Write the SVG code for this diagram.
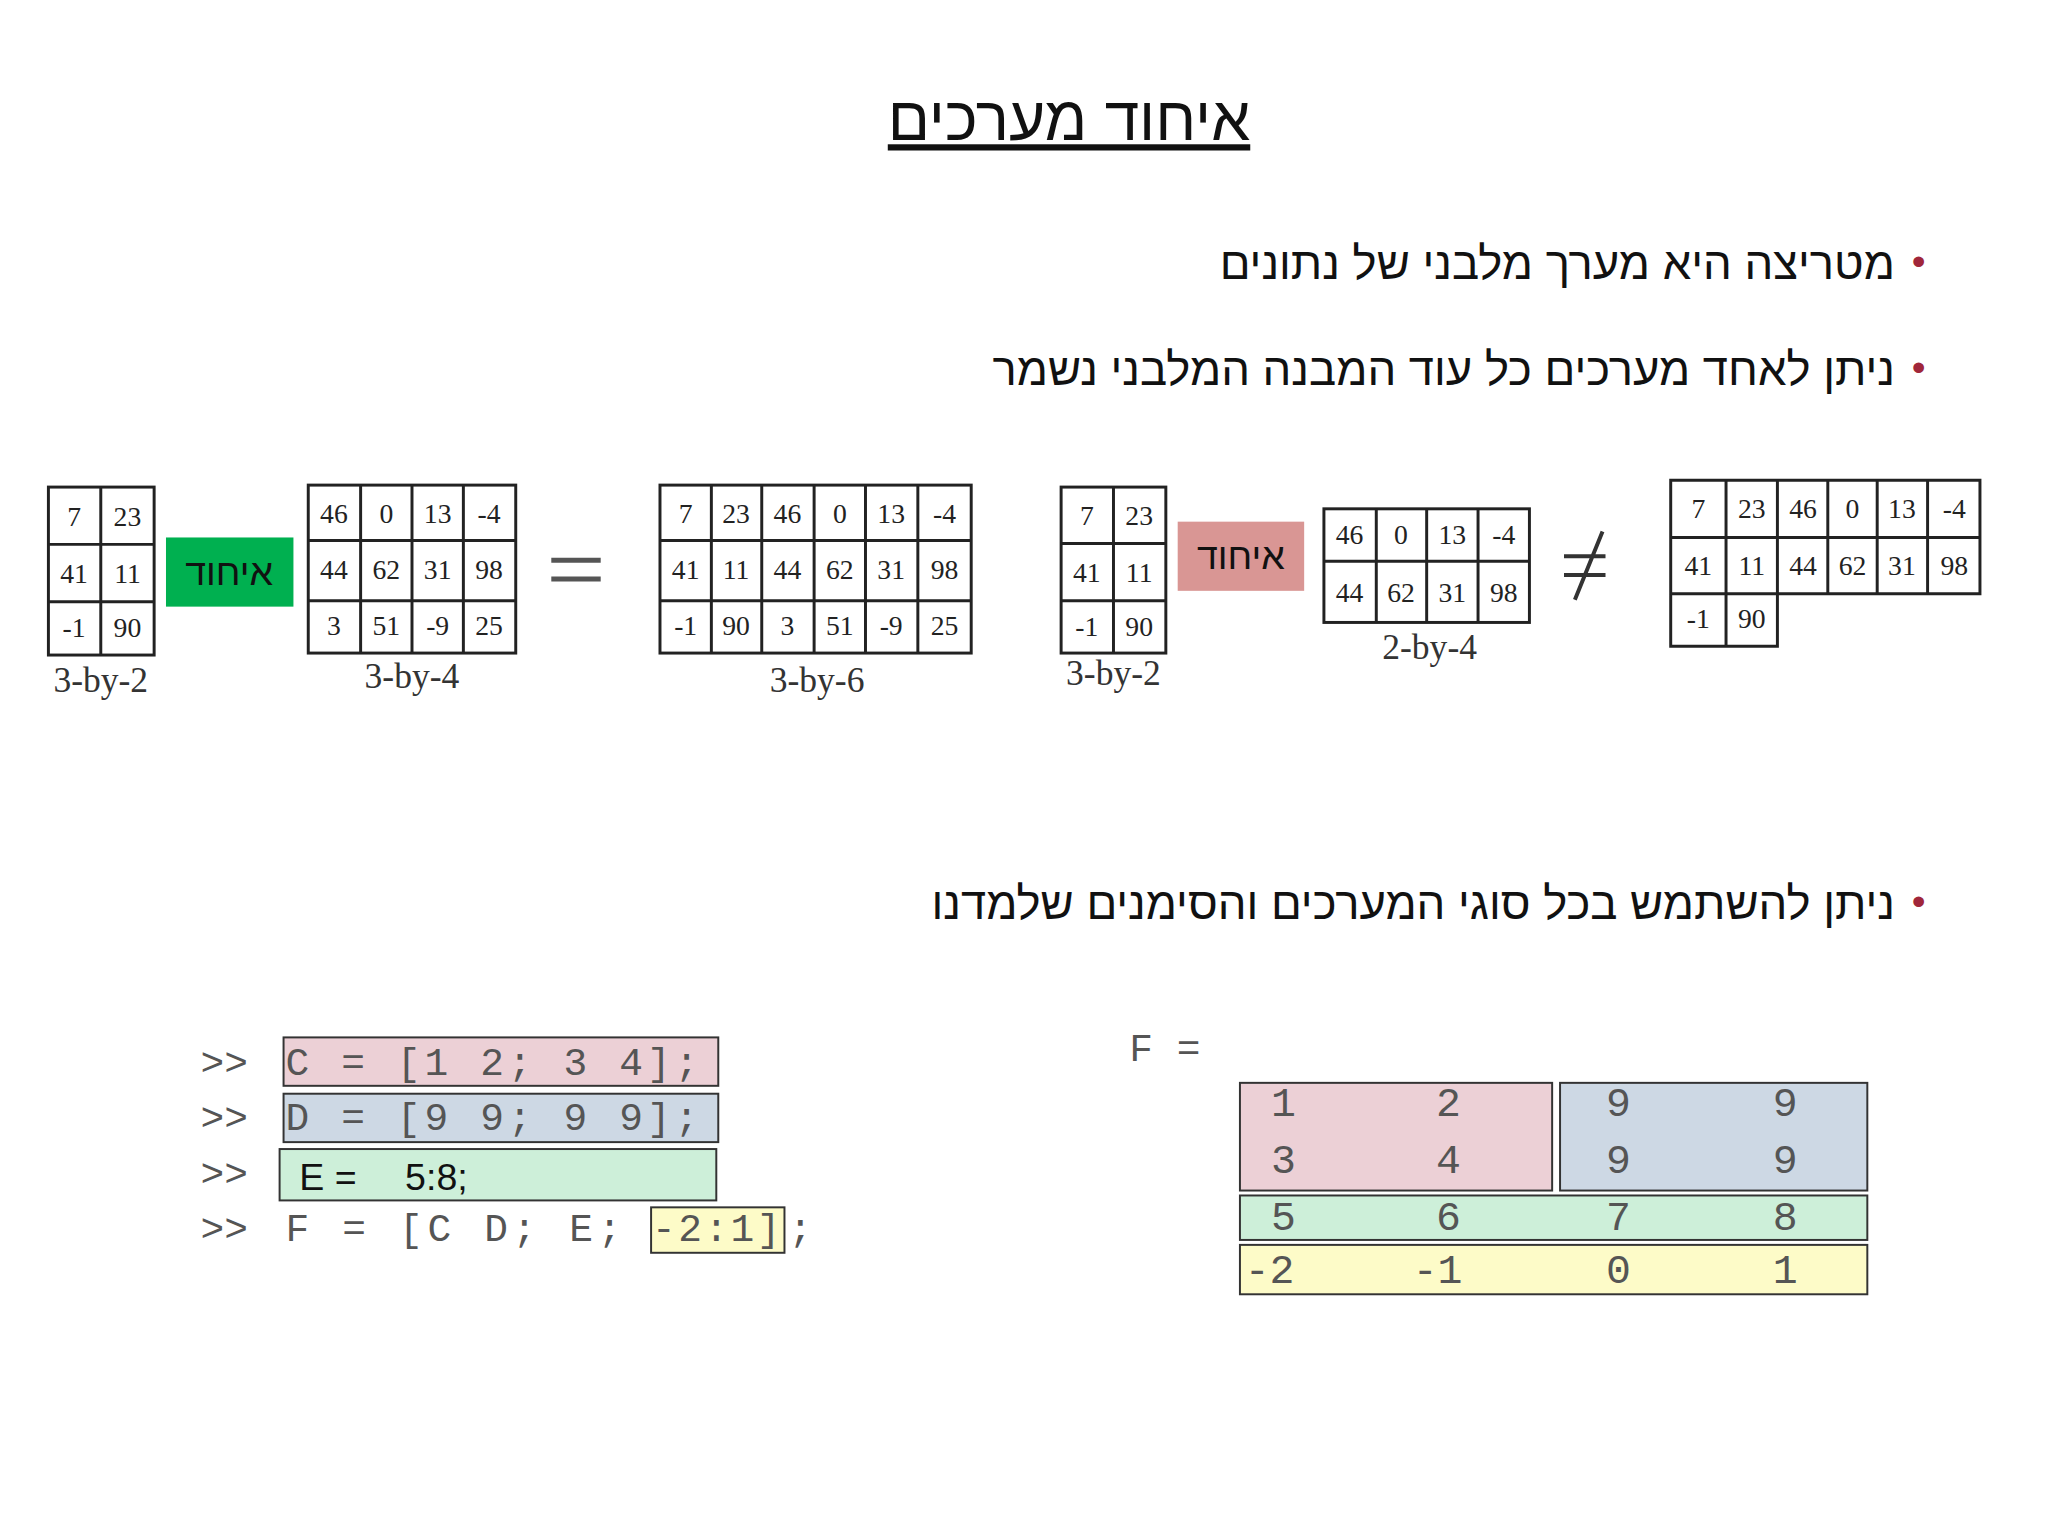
<svg xmlns="http://www.w3.org/2000/svg" width="2048" height="1536" viewBox="0 0 2048 1536">
<style>
.he{font-family:"Liberation Sans","DejaVu Sans",sans-serif;fill:#111}
.bul{font-family:"Liberation Sans",sans-serif;fill:#a0263a;font-size:40px}
.g{fill:#fff;stroke:#222;stroke-width:3}
.gl{stroke:#222;stroke-width:3}
.n{font-family:"Liberation Serif",serif;font-size:28px;fill:#222;text-anchor:middle}
.lab{font-family:"Liberation Serif",serif;font-size:36px;fill:#333;text-anchor:middle}
.code{font-family:"Liberation Mono",monospace;font-size:40px;fill:#555}
.fm{font-family:"Liberation Mono",monospace;font-size:42px;fill:#555;text-anchor:middle}
</style>
<rect width="2048" height="1536" fill="#fff"/>
<g transform="scale(0.988)">
<g id="title"><text x="1082" y="142" class="he" font-size="63" text-anchor="middle" text-decoration="underline">איחוד מערכים</text></g>
<g id="bullets">
<text x="1942" y="278" class="bul" text-anchor="middle">•</text>
<text x="1918" y="282" class="he" font-size="46" text-anchor="end">מטריצה היא מערך מלבני של נתונים</text>
<text x="1942" y="386" class="bul" text-anchor="middle">•</text>
<text x="1918" y="390" class="he" font-size="46" text-anchor="end">ניתן לאחד מערכים כל עוד המבנה המלבני נשמר</text>
<text x="1942" y="926" class="bul" text-anchor="middle">•</text>
<text x="1918" y="930" class="he" font-size="46" text-anchor="end">ניתן להשתמש בכל סוגי המערכים והסימנים שלמדנו</text>
</g>
<g id="m1">
<rect x="49" y="493" width="107" height="170" class="g"/>
<path d="M102 493V663M49 551H156M49 609H156" class="gl"/>
<text class="n" x="75" y="532">7</text><text class="n" x="129" y="532">23</text>
<text class="n" x="75" y="590">41</text><text class="n" x="129" y="590">11</text>
<text class="n" x="75" y="645">-1</text><text class="n" x="129" y="645">90</text>
<text class="lab" x="102" y="700">3-by-2</text>
</g>
<g id="op1"><rect x="168" y="544" width="129" height="70" fill="#00b050"/><text x="232" y="592" class="he" font-size="38" text-anchor="middle">איחוד</text></g>
<g id="m2">
<rect x="312" y="491" width="210" height="170" class="g"/>
<path d="M365 491V661M417 491V661M469 491V661M312 547H522M312 608H522" class="gl"/>
<text class="n" x="338" y="529">46</text><text class="n" x="391" y="529">0</text><text class="n" x="443" y="529">13</text><text class="n" x="495" y="529">-4</text>
<text class="n" x="338" y="586">44</text><text class="n" x="391" y="586">62</text><text class="n" x="443" y="586">31</text><text class="n" x="495" y="586">98</text>
<text class="n" x="338" y="643">3</text><text class="n" x="391" y="643">51</text><text class="n" x="443" y="643">-9</text><text class="n" x="495" y="643">25</text>
<text class="lab" x="417" y="696">3-by-4</text>
</g>
<g id="eq"><path d="M558 567H608M558 586H608" stroke="#555" stroke-width="5"/></g>
<g id="m3">
<rect x="668" y="491" width="315" height="170" class="g"/>
<path d="M720 491V661M771 491V661M824 491V661M876 491V661M929 491V661M668 547H983M668 608H983" class="gl"/>
<text class="n" x="694" y="529">7</text><text class="n" x="745" y="529">23</text><text class="n" x="797" y="529">46</text><text class="n" x="850" y="529">0</text><text class="n" x="902" y="529">13</text><text class="n" x="956" y="529">-4</text>
<text class="n" x="694" y="586">41</text><text class="n" x="745" y="586">11</text><text class="n" x="797" y="586">44</text><text class="n" x="850" y="586">62</text><text class="n" x="902" y="586">31</text><text class="n" x="956" y="586">98</text>
<text class="n" x="694" y="643">-1</text><text class="n" x="745" y="643">90</text><text class="n" x="797" y="643">3</text><text class="n" x="850" y="643">51</text><text class="n" x="902" y="643">-9</text><text class="n" x="956" y="643">25</text>
<text class="lab" x="827" y="700">3-by-6</text>
</g>
<g id="m4">
<rect x="1074" y="493" width="106" height="168" class="g"/>
<path d="M1127 493V661M1074 550H1180M1074 608H1180" class="gl"/>
<text class="n" x="1100" y="531">7</text><text class="n" x="1153" y="531">23</text>
<text class="n" x="1100" y="589">41</text><text class="n" x="1153" y="589">11</text>
<text class="n" x="1100" y="644">-1</text><text class="n" x="1153" y="644">90</text>
<text class="lab" x="1127" y="693">3-by-2</text>
</g>
<g id="op2"><rect x="1192" y="528" width="128" height="70" fill="#d99694"/><text x="1256" y="576" class="he" font-size="38" text-anchor="middle">איחוד</text></g>
<g id="m5">
<rect x="1340" y="515" width="208" height="115" class="g"/>
<path d="M1393 515V630M1444 515V630M1496 515V630M1340 568H1548" class="gl"/>
<text class="n" x="1366" y="551">46</text><text class="n" x="1418" y="551">0</text><text class="n" x="1470" y="551">13</text><text class="n" x="1522" y="551">-4</text>
<text class="n" x="1366" y="609">44</text><text class="n" x="1418" y="609">62</text><text class="n" x="1470" y="609">31</text><text class="n" x="1522" y="609">98</text>
<text class="lab" x="1447" y="667">2-by-4</text>
</g>
<g id="neq"><path d="M1583 563H1625M1583 582H1625M1622 538L1594 607" stroke="#333" stroke-width="4" fill="none"/></g>
<g id="m6">
<path d="M1691 486H2004V601H1691ZM1691 601V654H1799V601" class="g"/>
<path d="M1747 486V654M1799 486V601M1850 486V601M1900 486V601M1951 486V601M1691 544H2004" class="gl"/>
<text class="n" x="1719" y="524">7</text><text class="n" x="1773" y="524">23</text><text class="n" x="1825" y="524">46</text><text class="n" x="1875" y="524">0</text><text class="n" x="1925" y="524">13</text><text class="n" x="1978" y="524">-4</text>
<text class="n" x="1719" y="582">41</text><text class="n" x="1773" y="582">11</text><text class="n" x="1825" y="582">44</text><text class="n" x="1875" y="582">62</text><text class="n" x="1925" y="582">31</text><text class="n" x="1978" y="582">98</text>
<text class="n" x="1719" y="636">-1</text><text class="n" x="1773" y="636">90</text>
</g>
<g id="code">
<rect x="287" y="1050" width="440" height="49" fill="#ecd0d6" stroke="#333" stroke-width="2"/>
<rect x="287" y="1107" width="440" height="49" fill="#cdd8e4" stroke="#333" stroke-width="2"/>
<rect x="283" y="1163" width="442" height="52" fill="#cdefd9" stroke="#333" stroke-width="2"/>
<rect x="659" y="1222" width="135" height="46" fill="#fdfbc8" stroke="#333" stroke-width="2"/>
<text class="code" x="203" y="1088">&gt;&gt;</text>
<text class="code" x="203" y="1144">&gt;&gt;</text>
<text class="code" x="203" y="1200">&gt;&gt;</text>
<text class="code" x="203" y="1256">&gt;&gt;</text>
<text class="code" x="289" y="1088" textLength="418" lengthAdjust="spacing">C = [1 2; 3 4];</text>
<text class="code" x="289" y="1144" textLength="418" lengthAdjust="spacing">D = [9 9; 9 9];</text>
<text x="303" y="1204" class="he" font-size="38">E =</text>
<text x="410" y="1204" class="he" font-size="38">5:8;</text>
<text class="code" x="289" y="1256" textLength="340" lengthAdjust="spacing">F = [C D; E;</text>
<text class="code" x="660" y="1256" textLength="130" lengthAdjust="spacing">-2:1]</text>
<text class="code" x="798" y="1256">;</text>
</g>
<g id="fmat">
<text class="code" x="1143" y="1074">F =</text>
<rect x="1255" y="1096" width="316" height="109" fill="#ecd0d6" stroke="#333" stroke-width="2"/>
<rect x="1579" y="1096" width="311" height="109" fill="#cdd8e4" stroke="#333" stroke-width="2"/>
<rect x="1255" y="1210" width="635" height="45" fill="#cdefd9" stroke="#333" stroke-width="2"/>
<rect x="1255" y="1260" width="635" height="50" fill="#fdfbc8" stroke="#333" stroke-width="2"/>
<text class="fm" x="1299" y="1130">1</text><text class="fm" x="1466" y="1130">2</text><text class="fm" x="1638" y="1130">9</text><text class="fm" x="1807" y="1130">9</text>
<text class="fm" x="1299" y="1187">3</text><text class="fm" x="1466" y="1187">4</text><text class="fm" x="1638" y="1187">9</text><text class="fm" x="1807" y="1187">9</text>
<text class="fm" x="1299" y="1245">5</text><text class="fm" x="1466" y="1245">6</text><text class="fm" x="1638" y="1245">7</text><text class="fm" x="1807" y="1245">8</text>
<text class="fm" x="1285" y="1299">-2</text><text class="fm" x="1455" y="1299">-1</text><text class="fm" x="1638" y="1299">0</text><text class="fm" x="1807" y="1299">1</text>
</g>
</g>
</svg>
